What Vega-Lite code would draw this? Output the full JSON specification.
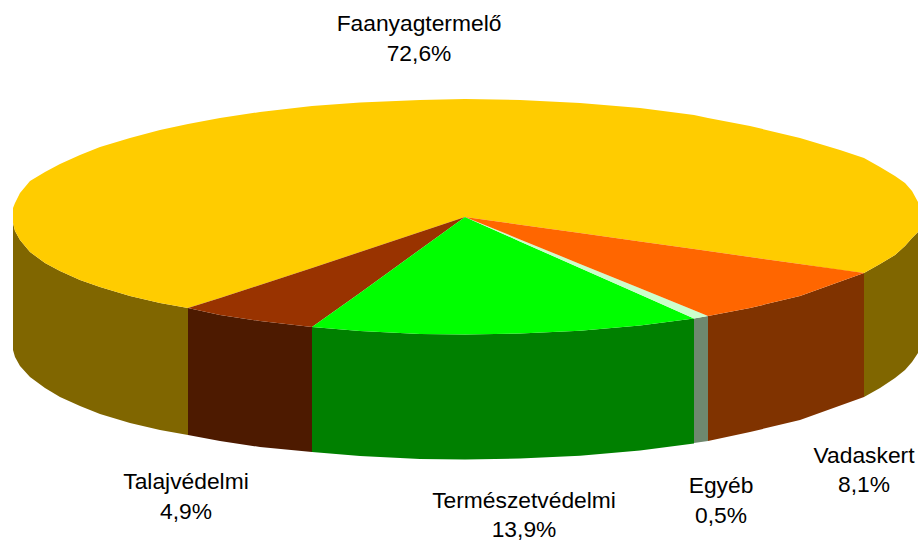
{"$schema":"https://vega.github.io/schema/vega-lite/v6.json","width":918,"height":541,"padding":0,"autosize":{"type":"none"},"background":"white","view":{"stroke":null},
"datasets":{
"faces":[
{"piece":"Faanyagtermelő oldal bal","x":13,"y":223,"y2":350},{"piece":"Faanyagtermelő oldal bal","x":15,"y":231,"y2":357},{"piece":"Faanyagtermelő oldal bal","x":20,"y":240,"y2":366},{"piece":"Faanyagtermelő oldal bal","x":30,"y":252,"y2":377},{"piece":"Faanyagtermelő oldal bal","x":45,"y":263,"y2":388},{"piece":"Faanyagtermelő oldal bal","x":60,"y":271,"y2":397},{"piece":"Faanyagtermelő oldal bal","x":80,"y":280,"y2":406},{"piece":"Faanyagtermelő oldal bal","x":100,"y":287,"y2":414},{"piece":"Faanyagtermelő oldal bal","x":130,"y":296,"y2":423},{"piece":"Faanyagtermelő oldal bal","x":160,"y":303,"y2":430},{"piece":"Faanyagtermelő oldal bal","x":188,"y":308,"y2":435},
{"piece":"Talajvédelmi oldal","x":188,"y":308,"y2":435},{"piece":"Talajvédelmi oldal","x":220,"y":315,"y2":441},{"piece":"Talajvédelmi oldal","x":260,"y":321,"y2":447},{"piece":"Talajvédelmi oldal","x":312,"y":327,"y2":452},
{"piece":"Természetvédelmi oldal","x":312,"y":327,"y2":452},{"piece":"Természetvédelmi oldal","x":360,"y":331,"y2":456},{"piece":"Természetvédelmi oldal","x":420,"y":334,"y2":459},{"piece":"Természetvédelmi oldal","x":465,"y":334.5,"y2":459.5},{"piece":"Természetvédelmi oldal","x":520,"y":333.6,"y2":458.6},{"piece":"Természetvédelmi oldal","x":580,"y":330.7,"y2":455.7},{"piece":"Természetvédelmi oldal","x":640,"y":325.4,"y2":450.4},{"piece":"Természetvédelmi oldal","x":694,"y":318.4,"y2":443.4},
{"piece":"Egyéb oldal","x":694,"y":318.4,"y2":443},{"piece":"Egyéb oldal","x":708,"y":316,"y2":441},
{"piece":"Vadaskert oldal","x":708,"y":316,"y2":441},{"piece":"Vadaskert oldal","x":750,"y":308,"y2":432},{"piece":"Vadaskert oldal","x":800,"y":296,"y2":420},{"piece":"Vadaskert oldal","x":864,"y":273,"y2":397},
{"piece":"Faanyagtermelő oldal jobb","x":864,"y":273,"y2":397},{"piece":"Faanyagtermelő oldal jobb","x":880,"y":264,"y2":388},{"piece":"Faanyagtermelő oldal jobb","x":895,"y":255,"y2":378},{"piece":"Faanyagtermelő oldal jobb","x":905,"y":246,"y2":370},{"piece":"Faanyagtermelő oldal jobb","x":912,"y":238,"y2":362},{"piece":"Faanyagtermelő oldal jobb","x":918,"y":232,"y2":353},
{"piece":"Faanyagtermelő","x":13,"y":208,"y2":223},{"piece":"Faanyagtermelő","x":15,"y":203,"y2":231},{"piece":"Faanyagtermelő","x":20,"y":193,"y2":240},{"piece":"Faanyagtermelő","x":30,"y":181,"y2":252},{"piece":"Faanyagtermelő","x":45,"y":172,"y2":263},{"piece":"Faanyagtermelő","x":60,"y":164,"y2":271},{"piece":"Faanyagtermelő","x":80,"y":155,"y2":280},{"piece":"Faanyagtermelő","x":100,"y":147,"y2":287},{"piece":"Faanyagtermelő","x":130,"y":138,"y2":296},{"piece":"Faanyagtermelő","x":160,"y":130,"y2":303},{"piece":"Faanyagtermelő","x":188,"y":124,"y2":308},{"piece":"Faanyagtermelő","x":220,"y":118,"y2":298},{"piece":"Faanyagtermelő","x":260,"y":112,"y2":285},{"piece":"Faanyagtermelő","x":312,"y":106,"y2":268},{"piece":"Faanyagtermelő","x":360,"y":102.5,"y2":252},{"piece":"Faanyagtermelő","x":420,"y":100,"y2":232},{"piece":"Faanyagtermelő","x":465,"y":99,"y2":217},{"piece":"Faanyagtermelő","x":520,"y":100,"y2":224.7},{"piece":"Faanyagtermelő","x":580,"y":103,"y2":233},{"piece":"Faanyagtermelő","x":640,"y":108,"y2":241.6},{"piece":"Faanyagtermelő","x":694,"y":115,"y2":249},{"piece":"Faanyagtermelő","x":708,"y":118,"y2":251},{"piece":"Faanyagtermelő","x":750,"y":126,"y2":257},{"piece":"Faanyagtermelő","x":800,"y":138,"y2":264},{"piece":"Faanyagtermelő","x":840,"y":150,"y2":270},{"piece":"Faanyagtermelő","x":864,"y":158,"y2":273},{"piece":"Faanyagtermelő","x":880,"y":167,"y2":264},{"piece":"Faanyagtermelő","x":895,"y":176,"y2":255},{"piece":"Faanyagtermelő","x":905,"y":183,"y2":246},{"piece":"Faanyagtermelő","x":912,"y":191,"y2":238},{"piece":"Faanyagtermelő","x":918,"y":202,"y2":232},
{"piece":"Talajvédelmi","x":188,"y":308,"y2":308},{"piece":"Talajvédelmi","x":220,"y":298,"y2":315},{"piece":"Talajvédelmi","x":260,"y":285,"y2":321},{"piece":"Talajvédelmi","x":312,"y":268,"y2":327},{"piece":"Talajvédelmi","x":360,"y":252,"y2":292.9},{"piece":"Talajvédelmi","x":420,"y":232,"y2":249.5},{"piece":"Talajvédelmi","x":465,"y":217,"y2":217},
{"piece":"Természetvédelmi","x":312,"y":327,"y2":327},{"piece":"Természetvédelmi","x":360,"y":292.9,"y2":331},{"piece":"Természetvédelmi","x":420,"y":249.5,"y2":334},{"piece":"Természetvédelmi","x":465,"y":217,"y2":334.5},{"piece":"Természetvédelmi","x":520,"y":241.4,"y2":333.6},{"piece":"Természetvédelmi","x":580,"y":268,"y2":330.7},{"piece":"Természetvédelmi","x":640,"y":294.5,"y2":325.4},{"piece":"Természetvédelmi","x":694,"y":318.4,"y2":318.4},
{"piece":"Egyéb","x":465,"y":217,"y2":217},{"piece":"Egyéb","x":520,"y":239.4,"y2":241.4},{"piece":"Egyéb","x":580,"y":263.9,"y2":268},{"piece":"Egyéb","x":640,"y":288.3,"y2":294.5},{"piece":"Egyéb","x":694,"y":310.3,"y2":318.4},{"piece":"Egyéb","x":708,"y":316,"y2":316},
{"piece":"Vadaskert","x":465,"y":217,"y2":217},{"piece":"Vadaskert","x":520,"y":224.7,"y2":239.4},{"piece":"Vadaskert","x":580,"y":233,"y2":263.9},{"piece":"Vadaskert","x":640,"y":241.6,"y2":288.3},{"piece":"Vadaskert","x":694,"y":249,"y2":310.3},{"piece":"Vadaskert","x":708,"y":251,"y2":316},{"piece":"Vadaskert","x":750,"y":257,"y2":308},{"piece":"Vadaskert","x":800,"y":264,"y2":296},{"piece":"Vadaskert","x":864,"y":273,"y2":273}
],
"slices":[
{"slice":"Faanyagtermelő","share":"72,6%","x":419,"y1":24,"y2":54},
{"slice":"Vadaskert","share":"8,1%","x":864,"y1":456,"y2":485},
{"slice":"Egyéb","share":"0,5%","x":721,"y1":486,"y2":516},
{"slice":"Természetvédelmi","share":"13,9%","x":524,"y1":501,"y2":530},
{"slice":"Talajvédelmi","share":"4,9%","x":186,"y1":482,"y2":512}
]},
"layer":[
{"data":{"name":"faces"},"mark":{"type":"area","interpolate":"linear","opacity":1,"clip":true},
"encoding":{
"x":{"field":"x","type":"quantitative","scale":{"domain":[0,918],"nice":false,"zero":false},"axis":null},
"y":{"field":"y","type":"quantitative","scale":{"domain":[541,0],"nice":false,"zero":false},"axis":null},
"y2":{"field":"y2"},
"color":{"field":"piece","type":"nominal","legend":null,"scale":{
"domain":["Faanyagtermelő oldal bal","Talajvédelmi oldal","Természetvédelmi oldal","Egyéb oldal","Vadaskert oldal","Faanyagtermelő oldal jobb","Faanyagtermelő","Talajvédelmi","Természetvédelmi","Egyéb","Vadaskert"],
"range":["#806600","#4d1a00","#008000","#6e886e","#803300","#806600","#ffcc00","#993300","#00ff00","#ccffcc","#ff6600"]}}}},
{"data":{"name":"slices"},"mark":{"type":"text","font":"Liberation Sans","fontSize":22.8,"align":"center","baseline":"middle","color":"#000000"},
"encoding":{"x":{"field":"x","type":"quantitative"},"y":{"field":"y1","type":"quantitative"},"text":{"field":"slice"}}},
{"data":{"name":"slices"},"mark":{"type":"text","font":"Liberation Sans","fontSize":22.8,"align":"center","baseline":"middle","color":"#000000"},
"encoding":{"x":{"field":"x","type":"quantitative"},"y":{"field":"y2","type":"quantitative"},"text":{"field":"share"}}}
]}
